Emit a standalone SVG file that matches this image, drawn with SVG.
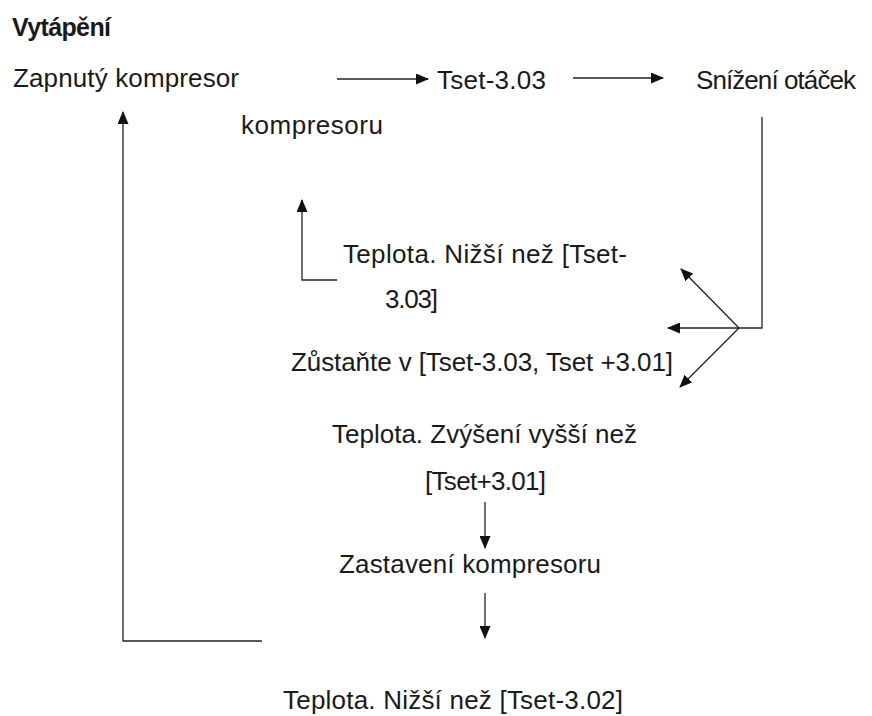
<svg xmlns="http://www.w3.org/2000/svg" width="872" height="716" viewBox="0 0 872 716">
<defs>
<style>
.t{font-family:"Liberation Sans",Arial,sans-serif;font-size:26px;fill:#1a1a1a}
.b{font-weight:bold;font-size:25px}
.c{fill:none;stroke:#222;stroke-width:1.3}
.a{marker-end:url(#ah)}
</style>
<marker id="ah" markerWidth="13" markerHeight="11" refX="12" refY="5.5" orient="auto" markerUnits="userSpaceOnUse">
<path d="M0,0 L13,5.5 L0,11 z" fill="#111"/>
</marker>
</defs>
<rect width="872" height="716" fill="#fff"/>
<g id="title"><text class="t b" x="12" y="36" textLength="99" lengthAdjust="spacing">Vytápění</text></g>
<g id="n-zapnuty"><text class="t" x="13" y="87" textLength="226" lengthAdjust="spacing">Zapnutý kompresor</text></g>
<g id="n-tset303"><text class="t" x="437" y="89" textLength="109" lengthAdjust="spacing">Tset-3.03</text></g>
<g id="n-snizeni"><text class="t" x="696" y="89" textLength="160" lengthAdjust="spacing">Snížení otáček</text></g>
<g id="n-kompresoru"><text class="t" x="241" y="134" textLength="142" lengthAdjust="spacing">kompresoru</text></g>
<g id="n-nizsi303"><text class="t" x="343" y="263" textLength="284" lengthAdjust="spacing">Teplota. Nižší než [Tset-</text><text class="t" x="385" y="308" textLength="53" lengthAdjust="spacing">3.03]</text></g>
<g id="n-zustante"><text class="t" x="291" y="371" textLength="382" lengthAdjust="spacing">Zůstaňte v [Tset-3.03, Tset +3.01]</text></g>
<g id="n-zvyseni"><text class="t" x="332" y="443" textLength="305" lengthAdjust="spacing">Teplota. Zvýšení vyšší než</text><text class="t" x="425" y="490" textLength="121" lengthAdjust="spacing">[Tset+3.01]</text></g>
<g id="n-zastaveni"><text class="t" x="339" y="573" textLength="262" lengthAdjust="spacing">Zastavení kompresoru</text></g>
<g id="n-nizsi302"><text class="t" x="283" y="709" textLength="340" lengthAdjust="spacing">Teplota. Nižší než [Tset-3.02]</text></g>
<g id="connectors">
<path class="c a" d="M337,79 H428"/>
<path class="c a" d="M573,78 H663"/>
<path class="c" d="M762,117 V328 H739"/>
<path class="c a" d="M739,328 L681,269"/>
<path class="c a" d="M739,328 H668"/>
<path class="c a" d="M739,328 L680,387"/>
<path class="c a" d="M262,641 H123 V112"/>
<path class="c a" d="M337,280 H302 V200"/>
<path class="c a" d="M485,502 V548"/>
<path class="c a" d="M485,593 V638"/>
</g>
</svg>
